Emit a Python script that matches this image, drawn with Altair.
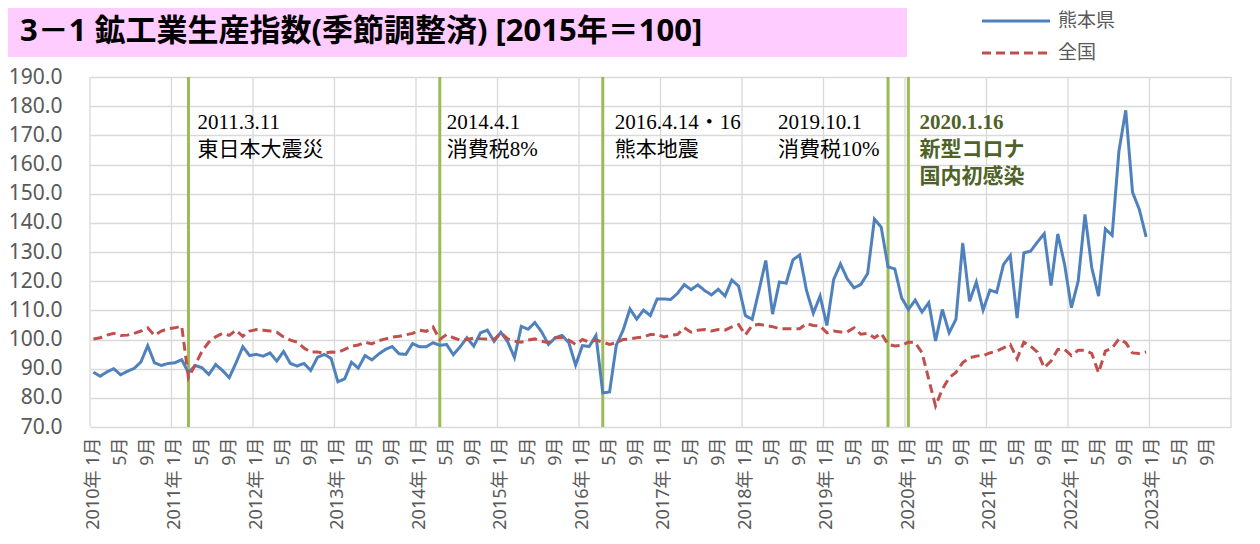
import json
import altair as alt
import pandas as pd

# ---------------- data ----------------
years = list(range(2010, 2024))            # years shown on the axis
series_names = ["熊本県", "全国"]
series_colors = ["#4F81BD", "#C0504D"]

kumamoto = [
    88.8, 87.4, 88.9, 90.0, 87.9, 89.1, 90.1, 92.3, 97.9, 92.0, 91.1, 91.8,
    92.0, 93.1, 88.6, 91.1, 90.3, 88.0, 91.4, 89.4, 86.9, 92.0, 97.5, 94.5,
    94.9, 94.3, 95.4, 92.6, 95.9, 91.8, 90.9, 91.8, 89.4, 93.9, 94.9, 93.5,
    85.5, 86.5, 92.2, 90.2, 94.5, 93.0, 95.0, 96.6, 97.6, 95.1, 94.9, 98.6,
    97.5, 97.5, 98.9, 98.0, 98.3, 94.8, 97.5, 100.6, 97.7, 102.3, 103.2, 99.4,
    102.5, 99.2, 93.8, 104.5, 103.5, 105.8, 102.6, 98.3, 100.6, 101.4, 98.9, 91.2,
    97.9, 97.6, 101.4, 81.7, 82.0, 98.1, 103.2, 110.5, 107.0, 110.1, 108.2, 113.9,
    113.9, 113.7, 115.8, 118.8, 117.1, 118.7, 116.8, 115.3, 117.2, 114.9, 120.4, 118.3,
    108.2, 106.9, 116.8, 127.1, 108.7, 119.7, 119.3, 127.3, 129.0, 116.8, 109.0, 114.9,
    104.8, 120.6, 125.9, 120.8, 117.7, 118.9, 122.6, 141.3, 138.5, 124.9, 124.2, 114.3,
    110.3, 113.5, 109.4, 112.6, 99.5, 110.3, 102.3, 106.9, 133.1, 113.1, 119.7, 110.1,
    116.9, 116.2, 125.7, 128.8, 107.3, 129.7, 130.3, 133.4, 136.3, 118.5, 136.2, 125.7,
    110.9, 120.0, 142.9, 124.6, 114.9, 137.9, 135.7, 164.6, 178.6, 150.5, 144.6, 135.2,
]
national = [
    100.2, 100.6, 101.5, 102.1, 101.4, 101.5, 102.1, 102.9, 104.0, 101.4, 102.9, 103.7,
    104.0, 104.6, 86.9, 91.4, 96.0, 99.1, 100.9, 102.1, 101.4, 103.2, 101.1, 102.9,
    103.4, 103.2, 102.9, 102.5, 100.9, 99.8, 99.1, 97.1, 95.7, 95.7, 95.3, 95.7,
    95.6, 96.6, 97.7, 98.1, 99.1, 98.5, 99.6, 100.2, 100.8, 101.1, 101.6, 102.1,
    103.2, 102.8, 104.3, 100.0, 101.7, 100.6, 99.8, 100.0, 100.5, 100.3, 100.2, 100.0,
    102.3, 100.2, 99.4, 99.1, 99.8, 100.2, 99.4, 98.9, 100.6, 100.6, 99.8, 98.3,
    100.0, 99.1, 99.8, 99.1, 98.3, 98.9, 100.0, 100.2, 100.6, 100.9, 101.7, 101.7,
    100.9, 101.4, 101.7, 104.0, 102.5, 103.2, 103.4, 102.9, 103.4, 103.2, 104.3, 105.1,
    101.6, 104.8, 105.2, 104.8, 104.4, 103.7, 103.7, 103.7, 103.7, 105.5, 104.8, 104.6,
    102.3, 102.9, 102.6, 102.6, 104.0, 101.8, 102.1, 100.6, 102.1, 98.3, 97.8, 98.0,
    99.1, 98.9, 95.5, 86.3, 77.2, 83.0, 86.9, 88.7, 92.1, 93.7, 94.3, 94.5,
    95.4, 96.0, 97.1, 98.3, 93.4, 99.1, 97.7, 95.7, 90.3, 92.6, 96.6, 96.6,
    94.5, 96.3, 96.3, 95.2, 88.6, 96.0, 97.1, 100.2, 98.9, 95.4, 95.2, 95.7,
]

tick_labels = []
for yr in years:
    tick_labels += [f"{yr}年 1月", "5月", "9月"]

# events: (months since 2010-01, text lines, horizontal offset, colour, weight)
events = [
    (14, "2011.3.11\n東日本大震災", 9, "#000000", "normal"),
    (51, "2014.4.1\n消費税8%", 7, "#000000", "normal"),
    (75, "2016.4.14・16\n熊本地震", 12, "#000000", "normal"),
    (117, "2019.10.1\n消費税10%", -110, "#000000", "normal"),
    (120, "2020.1.16\n新型コロナ\n国内初感染", 11, "#4F6228", "bold"),
]

title_text = "3－1 鉱工業生産指数(季節調整済) [2015年＝100]"

# ---------------- styling ----------------
SANS = "Noto Sans, Noto Sans CJK JP"
SERIF = "Liberation Serif, Noto Sans CJK JP"
GRID = "#D9D9D9"
LABEL = "#595959"
GREEN = "#9BBB59"
n_months = len(years) * 12

df = pd.DataFrame({"m": [i + 0.5 for i in range(len(kumamoto))],
                   "熊本県": kumamoto, "全国": national})
long = df.melt(id_vars="m", var_name="series", value_name="v")

tick_vals = [i + 0.5 for i in range(0, n_months, 4)]
label_expr = json.dumps(tick_labels, ensure_ascii=False) + "[round((datum.value - 0.5) / 4)]"

x_axis = alt.Axis(values=tick_vals, labelExpr=label_expr, labelAngle=270,
                  labelAlign="right", labelBaseline="middle",
                  labelFontSize=18, labelFont=SANS, labelColor=LABEL,
                  labelPadding=10, labelOverlap=False, labelFlush=False,
                  ticks=False, domain=False, grid=False, title=None)
x_scale = alt.Scale(domain=[0, n_months], nice=False, zero=False)


def X():
    return alt.X("m:Q", scale=x_scale, axis=x_axis)


year_df = pd.DataFrame({"m": [(yr - years[0]) * 12 for yr in years + [years[-1] + 1]]})
year_grid = alt.Chart(year_df).mark_rule(color=GRID, strokeWidth=1.3).encode(x=X())

lines = alt.Chart(long).mark_line(strokeWidth=3).encode(
    x=X(),
    y=alt.Y("v:Q", scale=alt.Scale(domain=[70, 190], nice=False, zero=False),
            axis=alt.Axis(values=list(range(70, 191, 10)), format=".1f",
                          labelFontSize=21, labelFont=SANS, labelColor=LABEL,
                          labelPadding=28, ticks=False, domain=False,
                          grid=True, gridColor=GRID, gridWidth=1.3, title=None)),
    color=alt.Color("series:N", scale=alt.Scale(domain=series_names, range=series_colors),
                    legend=None),
    strokeDash=alt.StrokeDash("series:N",
                              scale=alt.Scale(domain=series_names, range=[[1, 0], [9, 5]]),
                              legend=None),
    order=alt.Order("m:Q"),
)

ev_df = pd.DataFrame({"m": [e[0] + 0.5 for e in events]})
ev_rules = alt.Chart(ev_df).mark_rule(color=GREEN, strokeWidth=3).encode(x=X())

ev_texts = []
for m, txt, dx, col, wt in events:
    ev_texts.append(
        alt.Chart(pd.DataFrame({"m": [m + 0.5], "t": [txt]})).mark_text(
            align="left", baseline="alphabetic", dx=dx, fontSize=21, font=SERIF,
            color=col, fontWeight=wt, lineBreak="\n", lineHeight=27,
        ).encode(x=X(), y=alt.value(52), text="t:N")
    )

one = pd.DataFrame({"a": [0]})
title_box = alt.Chart(one).mark_rect(color="#FFCCFF").encode(
    x=alt.value(-82), x2=alt.value(817), y=alt.value(-69), y2=alt.value(-20))
title = alt.Chart(one).mark_text(
    text=title_text, align="left", baseline="middle", fontSize=31,
    fontWeight="bold", font=SANS, color="#000000").encode(
    x=alt.value(-70), y=alt.value(-45))

legend_layers = []
for k, (name, col) in enumerate(zip(series_names, series_colors)):
    ypix = -56 + 32 * k
    dash = [1, 0] if k == 0 else [9, 5]
    legend_layers.append(
        alt.Chart(one).mark_rule(color=col, strokeWidth=3, strokeDash=dash).encode(
            x=alt.value(892), x2=alt.value(960), y=alt.value(ypix)))
    legend_layers.append(
        alt.Chart(one).mark_text(text=name, align="left", baseline="middle",
                                 fontSize=19, font=SANS, color=LABEL).encode(
            x=alt.value(968), y=alt.value(ypix)))

chart = alt.layer(
    title_box, title, year_grid, ev_rules, lines, *ev_texts, *legend_layers
).properties(
    width=1141, height=350,
    padding={"left": 82, "top": 69, "right": 21, "bottom": 109},
    autosize=alt.AutoSizeParams(type="none"),
    background="white",
).configure_view(strokeWidth=0)

chart.save("out.html", embed_options={"renderer": "svg", "actions": False})
